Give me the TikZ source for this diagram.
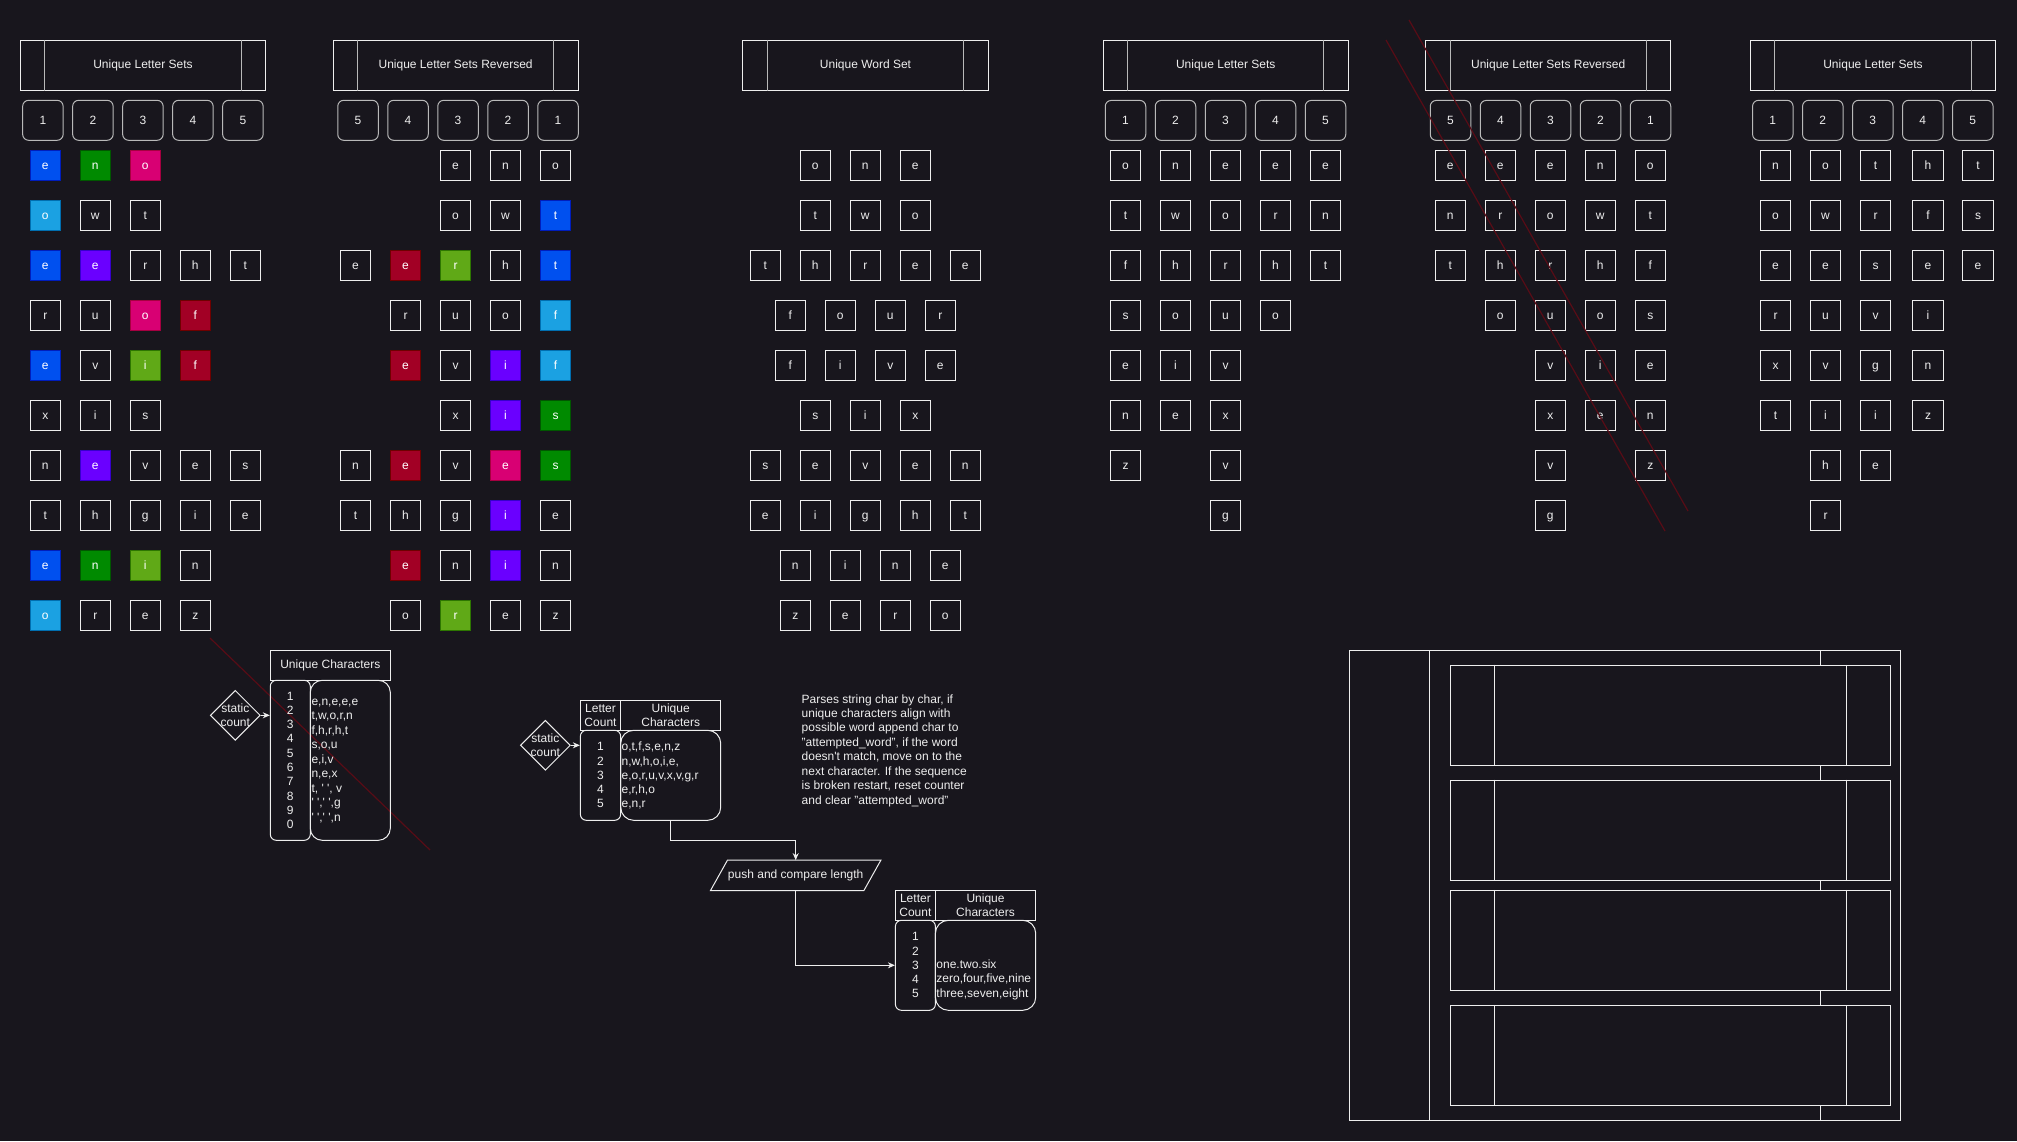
\documentclass[tikz,border=0pt]{standalone}
\usepackage{fontspec}
\setmainfont{Liberation Sans}
\usetikzlibrary{arrows.meta,shapes.geometric,calc}
\definecolor{bg}{RGB}{24,22,29}
\definecolor{fg}{RGB}{238,238,238}
\definecolor{gline}{RGB}{185,185,185}
\definecolor{redln}{RGB}{88,12,22}
\definecolor{cblue}{HTML}{0050EF}\definecolor{cblueS}{HTML}{001DBC}
\definecolor{cgreen}{HTML}{008A00}\definecolor{cgreenS}{HTML}{005700}
\definecolor{cpink}{HTML}{D80073}\definecolor{cpinkS}{HTML}{A50040}
\definecolor{clblue}{HTML}{1BA1E2}\definecolor{clblueS}{HTML}{006EAF}
\definecolor{cviol}{HTML}{6A00FF}\definecolor{cviolS}{HTML}{3700CC}
\definecolor{ccrim}{HTML}{A20025}\definecolor{ccrimS}{HTML}{6F0000}
\definecolor{clime}{HTML}{60A917}\definecolor{climeS}{HTML}{2D7600}
\newcommand\mkrow[4]{\foreach \xc/\xl/\xs in {#4}{\node[\xs] (#1-\xc) at ({#2},#3) {\xl};}}
\newcommand\mknum[4]{\foreach \xc/\xl in {#4}{\node[nb] (#1-\xc) at ({#2},#3) {\xl};}}
\newcommand\mkhdr[4]{%
  \node[hdr] (#1) at (#2,#3) {#4};
  \draw[dline] ([xshift=25]#1.north west) -- ([xshift=25]#1.south west);
  \draw[dline] ([xshift=-25]#1.north east) -- ([xshift=-25]#1.south east);}
\tikzset{
  base/.style={font=\fontsize{12}{14.4}\selectfont, text=fg},
  lb/.style={base, draw=fg, line width=1, minimum width=30.5, minimum height=30.5, inner sep=0, text height=9.3, text depth=1.5},
  bxb/.style={lb, fill=cblue, draw=cblueS, text=white},
  bxg/.style={lb, fill=cgreen, draw=cgreenS, text=white},
  bxp/.style={lb, fill=cpink, draw=cpinkS, text=white},
  bxl/.style={lb, fill=clblue, draw=clblueS, text=white},
  bxv/.style={lb, fill=cviol, draw=cviolS, text=white},
  bxr/.style={lb, fill=ccrim, draw=ccrimS, text=white},
  bxm/.style={lb, fill=clime, draw=climeS, text=white},
  nb/.style={base, draw=gline, line width=1, rounded corners=6, minimum width=40.5, minimum height=40, inner sep=0},
  hdr/.style={base, draw=fg, line width=1, minimum width=245.3, minimum height=49.6, inner sep=0},
  dline/.style={draw=gline, line width=1},
  wl/.style={draw=fg, line width=1},
  tb/.style={base, draw=fg, line width=1, inner sep=0, align=center},
  txt/.style={base, inner sep=0, font=\fontsize{12}{14.3}\selectfont},
  arr/.style={draw=fg, line width=1, -{Stealth[length=7,width=6]}},
  red/.style={draw=redln, line width=1.2},
}
\begin{document}
\begin{tikzpicture}[x=1pt,y=-1pt]
\useasboundingbox (0,0) rectangle (2017,1141);
\fill[bg] (0,0) rectangle (2017,1141);

% ---------- headers ----------
\mkhdr{h1}{142.95}{65.5}{Unique Letter Sets}
\mkhdr{h2}{455.65}{65.5}{Unique Letter Sets Reversed}
\mkhdr{h3}{865.5}{65.5}{Unique Word Set}
\mkhdr{h4}{1225.7}{65.4}{Unique Letter Sets}
\mkhdr{h5}{1548.15}{65.4}{Unique Letter Sets Reversed}
\mkhdr{h6}{1873}{65.3}{Unique Letter Sets}

% ---------- number boxes ----------
\mknum{n1}{42.9+50*\xc}{120.3}{0/1,1/2,2/3,3/4,4/5}
\mknum{n2}{358+50*\xc}{120.3}{0/5,1/4,2/3,3/2,4/1}
\mknum{n4}{1125.5+50*\xc}{120.4}{0/1,1/2,2/3,3/4,4/5}
\mknum{n5}{1450.5+50*\xc}{120.4}{0/5,1/4,2/3,3/2,4/1}
\mknum{n6}{1772.8+50*\xc}{120.3}{0/1,1/2,2/3,3/4,4/5}

% ---------- group 1 ----------
\mkrow{a1}{45.3+50*\xc}{165.3}{0/e/bxb,1/n/bxg,2/o/bxp}
\mkrow{a2}{45.3+50*\xc}{215.3}{0/o/bxl,1/w/lb,2/t/lb}
\mkrow{a3}{45.3+50*\xc}{265.3}{0/e/bxb,1/e/bxv,2/r/lb,3/h/lb,4/t/lb}
\mkrow{a4}{45.3+50*\xc}{315.3}{0/r/lb,1/u/lb,2/o/bxp,3/f/bxr}
\mkrow{a5}{45.3+50*\xc}{365.3}{0/e/bxb,1/v/lb,2/i/bxm,3/f/bxr}
\mkrow{a6}{45.3+50*\xc}{415.3}{0/x/lb,1/i/lb,2/s/lb}
\mkrow{a7}{45.3+50*\xc}{465.3}{0/n/lb,1/e/bxv,2/v/lb,3/e/lb,4/s/lb}
\mkrow{a8}{45.3+50*\xc}{515.3}{0/t/lb,1/h/lb,2/g/lb,3/i/lb,4/e/lb}
\mkrow{a9}{45.3+50*\xc}{565.3}{0/e/bxb,1/n/bxg,2/i/bxm,3/n/lb}
\mkrow{a10}{45.3+50*\xc}{615.3}{0/o/bxl,1/r/lb,2/e/lb,3/z/lb}

% ---------- group 2 ----------
\mkrow{b1}{355.5+50*\xc}{165.3}{2/e/lb,3/n/lb,4/o/lb}
\mkrow{b2}{355.5+50*\xc}{215.3}{2/o/lb,3/w/lb,4/t/bxb}
\mkrow{b3}{355.5+50*\xc}{265.3}{0/e/lb,1/e/bxr,2/r/bxm,3/h/lb,4/t/bxb}
\mkrow{b4}{355.5+50*\xc}{315.3}{1/r/lb,2/u/lb,3/o/lb,4/f/bxl}
\mkrow{b5}{355.5+50*\xc}{365.3}{1/e/bxr,2/v/lb,3/i/bxv,4/f/bxl}
\mkrow{b6}{355.5+50*\xc}{415.3}{2/x/lb,3/i/bxv,4/s/bxg}
\mkrow{b7}{355.5+50*\xc}{465.3}{0/n/lb,1/e/bxr,2/v/lb,3/e/bxp,4/s/bxg}
\mkrow{b8}{355.5+50*\xc}{515.3}{0/t/lb,1/h/lb,2/g/lb,3/i/bxv,4/e/lb}
\mkrow{b9}{355.5+50*\xc}{565.3}{1/e/bxr,2/n/lb,3/i/bxv,4/n/lb}
\mkrow{b10}{355.5+50*\xc}{615.3}{1/o/lb,2/r/bxm,3/e/lb,4/z/lb}

% ---------- group 3 (words) ----------
\mkrow{w1}{815.3+50*\xc}{165.3}{0/o/lb,1/n/lb,2/e/lb}
\mkrow{w2}{815.3+50*\xc}{215.3}{0/t/lb,1/w/lb,2/o/lb}
\mkrow{w3}{765.3+50*\xc}{265.3}{0/t/lb,1/h/lb,2/r/lb,3/e/lb,4/e/lb}
\mkrow{w4}{790.3+50*\xc}{315.3}{0/f/lb,1/o/lb,2/u/lb,3/r/lb}
\mkrow{w5}{790.3+50*\xc}{365.3}{0/f/lb,1/i/lb,2/v/lb,3/e/lb}
\mkrow{w6}{815.3+50*\xc}{415.3}{0/s/lb,1/i/lb,2/x/lb}
\mkrow{w7}{765.3+50*\xc}{465.3}{0/s/lb,1/e/lb,2/v/lb,3/e/lb,4/n/lb}
\mkrow{w8}{765.3+50*\xc}{515.3}{0/e/lb,1/i/lb,2/g/lb,3/h/lb,4/t/lb}
\mkrow{w9}{795.3+50*\xc}{565.3}{0/n/lb,1/i/lb,2/n/lb,3/e/lb}
\mkrow{w10}{795.3+50*\xc}{615.3}{0/z/lb,1/e/lb,2/r/lb,3/o/lb}

% ---------- group 4 ----------
\mkrow{d1}{1125.5+50*\xc}{165.5}{0/o/lb,1/n/lb,2/e/lb,3/e/lb,4/e/lb}
\mkrow{d2}{1125.5+50*\xc}{215.5}{0/t/lb,1/w/lb,2/o/lb,3/r/lb,4/n/lb}
\mkrow{d3}{1125.5+50*\xc}{265.5}{0/f/lb,1/h/lb,2/r/lb,3/h/lb,4/t/lb}
\mkrow{d4}{1125.5+50*\xc}{315.5}{0/s/lb,1/o/lb,2/u/lb,3/o/lb}
\mkrow{d5}{1125.5+50*\xc}{365.5}{0/e/lb,1/i/lb,2/v/lb}
\mkrow{d6}{1125.5+50*\xc}{415.5}{0/n/lb,1/e/lb,2/x/lb}
\mkrow{d7}{1125.5+50*\xc}{465.5}{0/z/lb,2/v/lb}
\mkrow{d8}{1125.5+50*\xc}{515.5}{2/g/lb}

% ---------- group 5 ----------
\mkrow{e1}{1450.3+50*\xc}{165.5}{0/e/lb,1/e/lb,2/e/lb,3/n/lb,4/o/lb}
\mkrow{e2}{1450.3+50*\xc}{215.5}{0/n/lb,1/r/lb,2/o/lb,3/w/lb,4/t/lb}
\mkrow{e3}{1450.3+50*\xc}{265.5}{0/t/lb,1/h/lb,2/r/lb,3/h/lb,4/f/lb}
\mkrow{e4}{1450.3+50*\xc}{315.5}{1/o/lb,2/u/lb,3/o/lb,4/s/lb}
\mkrow{e5}{1450.3+50*\xc}{365.5}{2/v/lb,3/i/lb,4/e/lb}
\mkrow{e6}{1450.3+50*\xc}{415.5}{2/x/lb,3/e/lb,4/n/lb}
\mkrow{e7}{1450.3+50*\xc}{465.5}{2/v/lb,4/z/lb}
\mkrow{e8}{1450.3+50*\xc}{515.5}{2/g/lb}

% ---------- group 6 ----------
\mkrow{f1}{1775.5+50*\xc+2.5*(\xc>2)}{165.3}{0/n/lb,1/o/lb,2/t/lb,3/h/lb,4/t/lb}
\mkrow{f2}{1775.5+50*\xc+2.5*(\xc>2)}{215.3}{0/o/lb,1/w/lb,2/r/lb,3/f/lb,4/s/lb}
\mkrow{f3}{1775.5+50*\xc+2.5*(\xc>2)}{265.3}{0/e/lb,1/e/lb,2/s/lb,3/e/lb,4/e/lb}
\mkrow{f4}{1775.5+50*\xc+2.5*(\xc>2)}{315.3}{0/r/lb,1/u/lb,2/v/lb,3/i/lb}
\mkrow{f5}{1775.5+50*\xc+2.5*(\xc>2)}{365.3}{0/x/lb,1/v/lb,2/g/lb,3/n/lb}
\mkrow{f6}{1775.5+50*\xc+2.5*(\xc>2)}{415.3}{0/t/lb,1/i/lb,2/i/lb,3/z/lb}
\mkrow{f7}{1775.5+50*\xc+2.5*(\xc>2)}{465.3}{1/h/lb,2/e/lb}
\mkrow{f8}{1775.5+50*\xc+2.5*(\xc>2)}{515.3}{1/r/lb}

% ---------- red strokes ----------
\coordinate (r1a) at (210,638); \coordinate (r1b) at (430,850);
\coordinate (r2a) at (1386,40); \coordinate (r2b) at (1665,531);
\coordinate (r3a) at (1409,20); \coordinate (r3b) at (1688,511);
\draw[red] (r1a) -- (r1b);
\draw[red] (r2a) -- (r2b);
\draw[red] (r3a) -- (r3b);

% ---------- bottom-left table ----------
\node[tb, minimum width=120, minimum height=30] (uc) at (330.3,665.3) {Unique Characters};
\node[tb, rounded corners=6, minimum width=40, minimum height=160] (ucl) at (290.3,760.3) {};
\node[tb, rounded corners=12, minimum width=80, minimum height=160] (ucr) at (350.3,760.3) {};
\node[txt, align=center, font=\fontsize{12}{14.26}\selectfont] (ucn) at (ucl) {1\\2\\3\\4\\5\\6\\7\\8\\9\\0};
\node[txt, align=left, anchor=west, font=\fontsize{12}{14.45}\selectfont] (uct) at ([xshift=1.5,yshift=-0.5]ucr.west)
 {e,n,e,e,e\\t,w,o,r,n\\f,h,r,h,t\\s,o,u\\e,i,v\\n,e,x\\t, \textquotesingle\ \textquotesingle, v\\
  \textquotesingle\ \textquotesingle,\textquotesingle\ \textquotesingle,g\\\textquotesingle\ \textquotesingle,\textquotesingle\ \textquotesingle,n};
\node[draw=fg, line width=1, diamond, minimum width=50, minimum height=50, inner sep=0] (dg1) at (235.3,715.3) {};
\node[txt, align=center, font=\fontsize{12}{13.5}\selectfont] (dg1t) at (dg1) {static\\count};
\draw[arr] (dg1.east) -- (dg1.east -| ucl.west);

% ---------- middle table ----------
\node[tb, minimum width=40.3, minimum height=30, font=\fontsize{12}{14.4}\selectfont] (mlc) at (600.5,715.3) {Letter\\Count};
\node[tb, minimum width=100, minimum height=30] (muc) at (670.7,715.3) {Unique\\Characters};
\node[tb, rounded corners=6, minimum width=40.3, minimum height=90] (mcl) at (600.5,775.3) {};
\node[tb, rounded corners=13, minimum width=100, minimum height=90] (mcr) at (670.7,775.3) {};
\node[txt, align=center] (mcn) at (mcl) {1\\2\\3\\4\\5};
\node[txt, align=left, anchor=west] (mct) at ([xshift=1.2,yshift=-0.5]mcr.west)
 {o,t,f,s,e,n,z\\n,w,h,o,i,e,\\e,o,r,u,v,x,v,g,r\\e,r,h,o\\e,n,r};
\node[draw=fg, line width=1, diamond, minimum width=50, minimum height=50, inner sep=0] (dg2) at (545.4,745.3) {};
\node[txt, align=center, font=\fontsize{12}{13.5}\selectfont] (dg2t) at (dg2) {static\\count};
\draw[arr] (dg2.east) -- (dg2.east -| mcl.west);

% paragraph
\node[txt, align=left, anchor=west, font=\fontsize{12}{14.43}\selectfont] (para) at (801.5,750.5)
 {Parses string char by char, if\\unique characters align with\\possible word append char to\\
  "attempted\_word", if the word\\doesn\textquotesingle t match, move on to the\\next character. If the sequence\\
  is broken restart, reset counter\\and clear "attempted\_word"};

% parallelogram
\node[base, inner sep=0, minimum width=170, minimum height=30] (pc) at (795.7,875.3) {push and compare length};
\draw[wl] (pc.south west) -- ([xshift=17]pc.north west) -- (pc.north east) -- ([xshift=-17]pc.south east) -- cycle;
\draw[arr] (mcr.south) -- ++(0,20) -| (pc.north);

% ---------- bottom table ----------
\node[tb, minimum width=40, minimum height=30] (blc) at (915.4,905.3) {Letter\\Count};
\node[tb, minimum width=100.3, minimum height=30] (buc) at (985.55,905.3) {Unique\\Characters};
\node[tb, rounded corners=6, minimum width=40, minimum height=90] (bcl) at (915.4,965.3) {};
\node[tb, rounded corners=13, minimum width=100.3, minimum height=90] (bcr) at (985.55,965.3) {};
\node[txt, align=center] (bcn) at (bcl) {1\\2\\3\\4\\5};
\node[txt, align=left, anchor=west] (bct) at ([xshift=1.3,yshift=-14.3]bcr.west)
 {one.two.six\\zero,four,five,nine\\three,seven,eight};
\draw[arr] (pc.south) |- (bcl.west);

% ---------- bottom-right block ----------
\node[wl, minimum width=550.5, minimum height=469.5, inner sep=0] (br) at (1624.75,885.25) {};
\draw[wl] ([xshift=80.5]br.north west) -- ([xshift=80.5]br.south west);
\foreach \nm/\yy in {in1/715.15,in2/830.15,in3/940.3,in4/1055.3}{
  \node[wl, minimum width=440, minimum height=100, inner sep=0] (\nm) at (1670.5,\yy) {};
  \draw[wl] ([xshift=44]\nm.north west) -- ([xshift=44]\nm.south west);
  \draw[wl] ([xshift=-44.5]\nm.north east) -- ([xshift=-44.5]\nm.south east);
}
\draw[wl] ([xshift=150]in1.north) -- ([xshift=150]in1.north |- br.north);
\draw[wl] ([xshift=150]in1.south) -- ([xshift=150]in2.north);
\draw[wl] ([xshift=150]in2.south) -- ([xshift=150]in3.north);
\draw[wl] ([xshift=150]in3.south) -- ([xshift=150]in4.north);
\draw[wl] ([xshift=150]in4.south) -- ([xshift=150]in4.south |- br.south);
\end{tikzpicture}
\end{document}
